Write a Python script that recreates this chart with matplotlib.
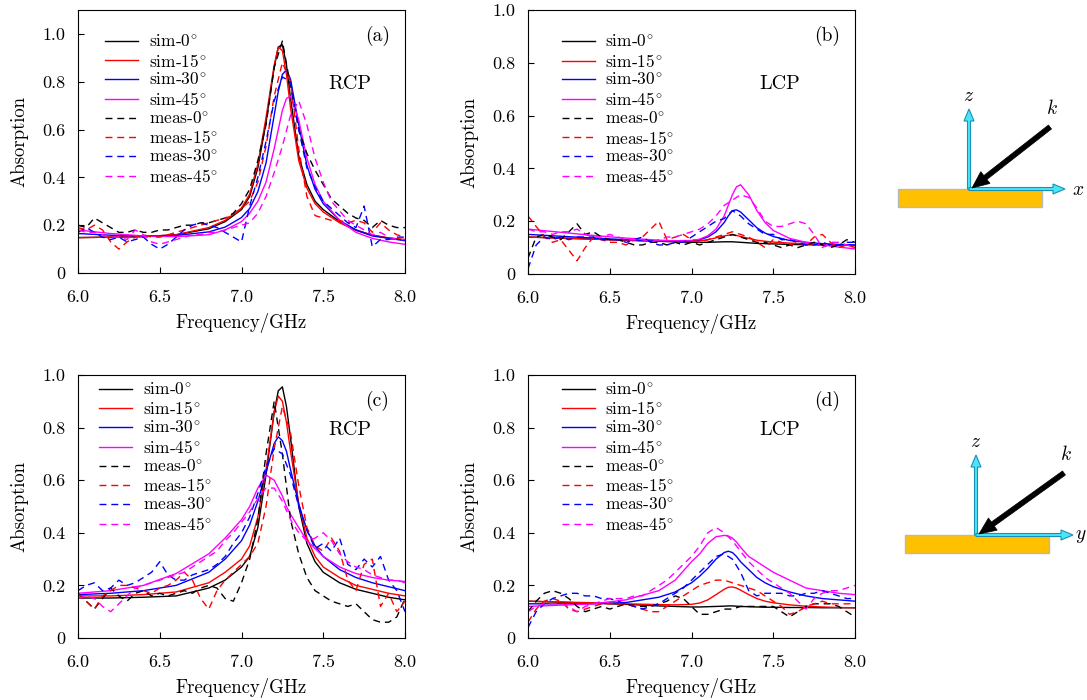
import numpy as np
import matplotlib
matplotlib.use('Agg')
import matplotlib.pyplot as plt
from matplotlib.patches import Rectangle, FancyArrow

plt.rcParams['font.family'] = 'serif'
plt.rcParams['font.serif'] = ['cmr10', 'DejaVu Serif']
plt.rcParams['mathtext.fontset'] = 'cm'
plt.rcParams['axes.formatter.use_mathtext'] = True

# frequency grids (GHz)
freq_sim = [6.0, 6.2, 6.4, 6.6, 6.8, 6.9, 7.0, 7.05, 7.1, 7.15, 7.2, 7.225,
            7.25, 7.275, 7.3, 7.35, 7.4, 7.45, 7.5, 7.6, 7.7, 7.8, 7.9, 8.0]
freq_meas = [6.00, 6.05, 6.10, 6.15, 6.20, 6.25, 6.30, 6.35, 6.40, 6.45,
             6.50, 6.55, 6.60, 6.65, 6.70, 6.75, 6.80, 6.85, 6.90, 6.95,
             7.00, 7.05, 7.10, 7.15, 7.20, 7.25, 7.30, 7.35, 7.40, 7.45,
             7.50, 7.55, 7.60, 7.65, 7.70, 7.75, 7.80, 7.85, 7.90, 7.95,
             8.00]

# (a) RCP, x-z plane
a_sim0 = [0.148, 0.150, 0.152, 0.160, 0.185, 0.215, 0.265, 0.320, 0.440, 0.630, 0.860, 0.945,
          0.955, 0.870, 0.730, 0.490, 0.370, 0.300, 0.265, 0.215, 0.180, 0.158, 0.146, 0.138]
a_sim15 = [0.148, 0.150, 0.152, 0.160, 0.190, 0.220, 0.272, 0.330, 0.455, 0.650, 0.870, 0.945,
           0.930, 0.830, 0.690, 0.470, 0.355, 0.290, 0.255, 0.210, 0.178, 0.158, 0.147, 0.140]
a_sim30 = [0.165, 0.158, 0.155, 0.157, 0.172, 0.192, 0.232, 0.270, 0.340, 0.460, 0.660, 0.760,
           0.830, 0.850, 0.810, 0.620, 0.450, 0.350, 0.290, 0.220, 0.180, 0.155, 0.145, 0.135]
a_sim45 = [0.180, 0.165, 0.155, 0.152, 0.160, 0.180, 0.215, 0.250, 0.300, 0.380, 0.520, 0.600,
           0.680, 0.730, 0.740, 0.640, 0.480, 0.370, 0.300, 0.220, 0.170, 0.145, 0.130, 0.120]
a_meas0 = [0.20, 0.19, 0.23, 0.21, 0.19, 0.17, 0.17, 0.18, 0.17, 0.17,
           0.18, 0.18, 0.19, 0.20, 0.20, 0.21, 0.21, 0.22, 0.23, 0.25,
           0.29, 0.35, 0.47, 0.62, 0.86, 0.97, 0.78, 0.60, 0.50, 0.43,
           0.37, 0.31, 0.28, 0.25, 0.23, 0.22, 0.19, 0.22, 0.20, 0.19,
           0.19]
a_meas15 = [0.19, 0.18, 0.20, 0.18, 0.13, 0.10, 0.13, 0.15, 0.16, 0.15,
            0.15, 0.16, 0.17, 0.18, 0.19, 0.20, 0.21, 0.22, 0.23, 0.24,
            0.27, 0.30, 0.38, 0.53, 0.74, 0.88, 0.80, 0.52, 0.32, 0.24,
            0.23, 0.22, 0.22, 0.21, 0.22, 0.21, 0.17, 0.21, 0.18, 0.16,
            0.15]
a_meas30 = [0.17, 0.19, 0.17, 0.15, 0.14, 0.15, 0.13, 0.14, 0.15, 0.12,
            0.10, 0.12, 0.15, 0.18, 0.20, 0.21, 0.20, 0.19, 0.17, 0.15,
            0.13, 0.28, 0.40, 0.55, 0.72, 0.82, 0.80, 0.60, 0.44, 0.36,
            0.30, 0.27, 0.24, 0.21, 0.19, 0.28, 0.11, 0.14, 0.14, 0.15,
            0.15]
a_meas45 = [0.18, 0.17, 0.17, 0.16, 0.15, 0.15, 0.14, 0.18, 0.16, 0.13,
            0.12, 0.13, 0.14, 0.15, 0.16, 0.16, 0.17, 0.17, 0.18, 0.19,
            0.20, 0.21, 0.25, 0.32, 0.42, 0.53, 0.66, 0.72, 0.62, 0.48,
            0.38, 0.30, 0.26, 0.22, 0.20, 0.18, 0.16, 0.17, 0.15, 0.14,
            0.14]

# (b) LCP, x-z plane
b_sim0 = [0.140, 0.136, 0.132, 0.128, 0.124, 0.122, 0.120, 0.120, 0.120, 0.121, 0.122, 0.122,
          0.122, 0.121, 0.120, 0.118, 0.116, 0.115, 0.114, 0.112, 0.111, 0.110, 0.109, 0.108]
b_sim15 = [0.140, 0.136, 0.132, 0.128, 0.124, 0.123, 0.124, 0.126, 0.130, 0.137, 0.144, 0.147,
           0.148, 0.146, 0.142, 0.135, 0.128, 0.124, 0.121, 0.117, 0.114, 0.112, 0.110, 0.108]
b_sim30 = [0.150, 0.143, 0.136, 0.130, 0.125, 0.124, 0.126, 0.130, 0.140, 0.160, 0.195, 0.220,
           0.240, 0.243, 0.235, 0.205, 0.175, 0.155, 0.142, 0.127, 0.120, 0.115, 0.112, 0.110]
b_sim45 = [0.170, 0.158, 0.146, 0.136, 0.128, 0.126, 0.127, 0.132, 0.145, 0.170, 0.220, 0.260,
           0.300, 0.330, 0.338, 0.300, 0.240, 0.195, 0.165, 0.135, 0.120, 0.110, 0.102, 0.095]
b_meas0 = [0.06, 0.14, 0.15, 0.14, 0.13, 0.16, 0.19, 0.15, 0.16, 0.14,
           0.13, 0.13, 0.12, 0.11, 0.11, 0.12, 0.12, 0.11, 0.12, 0.11,
           0.12, 0.11, 0.12, 0.13, 0.14, 0.15, 0.14, 0.13, 0.12, 0.12,
           0.11, 0.10, 0.11, 0.10, 0.11, 0.12, 0.11, 0.10, 0.11, 0.13,
           0.12]
b_meas15 = [0.22, 0.18, 0.14, 0.12, 0.13, 0.09, 0.05, 0.10, 0.14, 0.13,
            0.12, 0.12, 0.11, 0.13, 0.14, 0.17, 0.20, 0.13, 0.14, 0.15,
            0.13, 0.12, 0.13, 0.14, 0.15, 0.16, 0.15, 0.14, 0.12, 0.10,
            0.13, 0.12, 0.11, 0.12, 0.11, 0.14, 0.15, 0.12, 0.10, 0.11,
            0.10]
b_meas30 = [0.02, 0.11, 0.14, 0.13, 0.14, 0.13, 0.14, 0.14, 0.14, 0.13,
            0.13, 0.13, 0.12, 0.13, 0.14, 0.12, 0.11, 0.11, 0.12, 0.12,
            0.14, 0.16, 0.18, 0.20, 0.21, 0.24, 0.22, 0.19, 0.17, 0.15,
            0.15, 0.13, 0.13, 0.12, 0.11, 0.11, 0.12, 0.11, 0.11, 0.12,
            0.12]
b_meas45 = [0.17, 0.16, 0.16, 0.15, 0.16, 0.16, 0.17, 0.15, 0.14, 0.14,
            0.15, 0.14, 0.13, 0.13, 0.13, 0.12, 0.13, 0.14, 0.14, 0.15,
            0.16, 0.17, 0.19, 0.22, 0.26, 0.28, 0.30, 0.29, 0.25, 0.20,
            0.18, 0.18, 0.19, 0.20, 0.19, 0.15, 0.10, 0.12, 0.12, 0.11,
            0.10]

# (c) RCP, y-z plane
c_sim0 = [0.152, 0.152, 0.155, 0.160, 0.190, 0.220, 0.270, 0.310, 0.420, 0.620, 0.860, 0.940,
          0.955, 0.880, 0.760, 0.500, 0.360, 0.290, 0.250, 0.210, 0.185, 0.170, 0.155, 0.145]
c_sim15 = [0.160, 0.160, 0.165, 0.175, 0.210, 0.250, 0.300, 0.350, 0.460, 0.640, 0.860, 0.920,
           0.900, 0.820, 0.710, 0.510, 0.380, 0.310, 0.270, 0.230, 0.200, 0.185, 0.170, 0.160]
c_sim30 = [0.165, 0.170, 0.180, 0.200, 0.250, 0.300, 0.370, 0.430, 0.520, 0.630, 0.740, 0.765,
           0.750, 0.710, 0.640, 0.510, 0.410, 0.350, 0.310, 0.260, 0.230, 0.210, 0.195, 0.180]
c_sim45 = [0.170, 0.180, 0.200, 0.245, 0.320, 0.380, 0.450, 0.500, 0.570, 0.620, 0.600, 0.570,
           0.540, 0.500, 0.470, 0.420, 0.370, 0.340, 0.310, 0.270, 0.245, 0.230, 0.220, 0.215]
c_meas0 = [0.17, 0.14, 0.11, 0.15, 0.19, 0.16, 0.14, 0.17, 0.18, 0.16,
           0.17, 0.16, 0.17, 0.18, 0.17, 0.19, 0.20, 0.19, 0.15, 0.14,
           0.21, 0.30, 0.45, 0.70, 0.90, 0.70, 0.45, 0.32, 0.23, 0.18,
           0.16, 0.14, 0.13, 0.12, 0.13, 0.10, 0.07, 0.06, 0.06, 0.08,
           0.15]
c_meas15 = [0.17, 0.14, 0.11, 0.16, 0.18, 0.20, 0.20, 0.19, 0.18, 0.17,
            0.19, 0.20, 0.22, 0.25, 0.22, 0.15, 0.11, 0.18, 0.22, 0.25,
            0.28, 0.31, 0.36, 0.50, 0.72, 0.88, 0.78, 0.58, 0.42, 0.35,
            0.33, 0.38, 0.33, 0.22, 0.18, 0.28, 0.30, 0.12, 0.17, 0.10,
            0.14]
c_meas30 = [0.18, 0.20, 0.21, 0.18, 0.19, 0.22, 0.20, 0.21, 0.23, 0.25,
            0.29, 0.24, 0.22, 0.22, 0.24, 0.25, 0.26, 0.28, 0.31, 0.36,
            0.40, 0.46, 0.55, 0.65, 0.72, 0.70, 0.62, 0.50, 0.41, 0.34,
            0.36, 0.33, 0.38, 0.28, 0.26, 0.30, 0.27, 0.31, 0.22, 0.18,
            0.10]
c_meas45 = [0.15, 0.16, 0.15, 0.12, 0.10, 0.13, 0.16, 0.19, 0.20, 0.21,
            0.22, 0.23, 0.24, 0.25, 0.27, 0.29, 0.31, 0.33, 0.37, 0.40,
            0.44, 0.48, 0.53, 0.57, 0.57, 0.52, 0.45, 0.40, 0.37, 0.38,
            0.40, 0.37, 0.32, 0.29, 0.27, 0.26, 0.24, 0.23, 0.22, 0.22,
            0.21]

# (d) LCP, y-z plane
d_sim0 = [0.140, 0.136, 0.132, 0.128, 0.122, 0.120, 0.118, 0.118, 0.119, 0.120, 0.121, 0.122,
          0.122, 0.121, 0.120, 0.119, 0.118, 0.117, 0.117, 0.116, 0.116, 0.115, 0.115, 0.115]
d_sim15 = [0.140, 0.137, 0.134, 0.130, 0.127, 0.126, 0.128, 0.133, 0.145, 0.165, 0.185, 0.193,
           0.194, 0.190, 0.182, 0.165, 0.150, 0.140, 0.134, 0.126, 0.121, 0.118, 0.116, 0.115]
d_sim30 = [0.130, 0.130, 0.130, 0.135, 0.155, 0.175, 0.210, 0.235, 0.265, 0.300, 0.325, 0.330,
           0.325, 0.310, 0.290, 0.260, 0.230, 0.210, 0.195, 0.175, 0.160, 0.150, 0.145, 0.140]
d_sim45 = [0.120, 0.125, 0.130, 0.145, 0.180, 0.220, 0.290, 0.320, 0.360, 0.385, 0.390, 0.388,
           0.380, 0.365, 0.345, 0.310, 0.290, 0.270, 0.250, 0.220, 0.190, 0.180, 0.170, 0.165]
d_meas0 = [0.10, 0.14, 0.17, 0.18, 0.17, 0.15, 0.12, 0.10, 0.11, 0.12,
           0.11, 0.12, 0.13, 0.12, 0.12, 0.12, 0.13, 0.14, 0.16, 0.15,
           0.12, 0.09, 0.09, 0.10, 0.11, 0.11, 0.12, 0.12, 0.12, 0.12,
           0.12, 0.10, 0.08, 0.10, 0.12, 0.13, 0.13, 0.13, 0.12, 0.10,
           0.08]
d_meas15 = [0.06, 0.11, 0.14, 0.15, 0.14, 0.11, 0.10, 0.11, 0.12, 0.13,
            0.13, 0.13, 0.13, 0.12, 0.11, 0.10, 0.10, 0.12, 0.14, 0.16,
            0.18, 0.20, 0.21, 0.22, 0.22, 0.21, 0.20, 0.19, 0.18, 0.16,
            0.14, 0.12, 0.09, 0.10, 0.12, 0.13, 0.14, 0.13, 0.13, 0.13,
            0.13]
d_meas30 = [0.04, 0.10, 0.13, 0.15, 0.16, 0.17, 0.17, 0.16, 0.16, 0.15,
            0.15, 0.14, 0.13, 0.12, 0.11, 0.12, 0.13, 0.15, 0.17, 0.19,
            0.22, 0.25, 0.28, 0.31, 0.32, 0.30, 0.25, 0.18, 0.16, 0.17,
            0.17, 0.17, 0.16, 0.16, 0.17, 0.17, 0.18, 0.17, 0.16, 0.15,
            0.15]
d_meas45 = [0.10, 0.12, 0.13, 0.13, 0.13, 0.12, 0.10, 0.12, 0.13, 0.14,
            0.15, 0.15, 0.15, 0.16, 0.16, 0.18, 0.20, 0.22, 0.25, 0.28,
            0.31, 0.35, 0.40, 0.42, 0.40, 0.37, 0.33, 0.29, 0.26, 0.23,
            0.21, 0.19, 0.17, 0.14, 0.11, 0.15, 0.17, 0.18, 0.18, 0.19,
            0.20]

angles = [0, 15, 30, 45]
colors = ['black', 'red', 'blue', 'magenta']
xticks = [6.0, 6.5, 7.0, 7.5, 8.0]
yticks = [0, 0.2, 0.4, 0.6, 0.8, 1.0]
ytick_labels = ['0', '0.2', '0.4', '0.6', '0.8', '1.0']

W, H = 1087, 700
fig = plt.figure(figsize=(W / 100, H / 100), dpi=100)


def panel(rect_px, sims, meass, ytop, tag, pol, pol_xy, leg_xy):
    l, t, r, b = rect_px
    ax = fig.add_axes([l / W, 1 - b / H, (r - l) / W, (b - t) / H])
    for s, c, a in zip(sims, colors, angles):
        ax.plot(freq_sim, s, color=c, lw=1.0, label=r'sim-%d$^{\circ}$' % a)
    for m, c, a in zip(meass, colors, angles):
        ax.plot(freq_meas, m, color=c, lw=1.0, ls=(0, (5, 3.5)), label=r'meas-%d$^{\circ}$' % a)
    ax.set_xlim(6.0, 8.0)
    ax.set_ylim(0, ytop)
    ax.set_xticks(xticks)
    ax.set_xticklabels(['%.1f' % v for v in xticks])
    ax.set_yticks(yticks)
    ax.set_yticklabels(ytick_labels)
    ax.tick_params(direction='in', length=4, labelsize=13, top=False, right=False)
    ax.tick_params(axis='x', pad=12)
    ax.tick_params(axis='y', pad=9)
    ax.set_xlabel('Frequency/GHz', fontsize=13.5, labelpad=5.5)
    ax.set_ylabel('Absorption', fontsize=13.5, labelpad=10)
    ax.text(0.915, 0.90, tag, transform=ax.transAxes, fontsize=14, ha='center', va='center')
    ax.text(pol_xy[0], pol_xy[1], pol, transform=ax.transAxes, fontsize=14.5, ha='center', va='center')
    ax.legend(loc='upper left', bbox_to_anchor=leg_xy, frameon=False, fontsize=12.5,
              borderpad=0, borderaxespad=0, labelspacing=0.15, handlelength=1.9,
              handletextpad=0.6)
    return ax


panel((78, 10, 405, 273), [a_sim0, a_sim15, a_sim30, a_sim45],
      [a_meas0, a_meas15, a_meas30, a_meas45], 1.1, '(a)', 'RCP', (0.83, 0.72), (0.083, 0.91))
panel((528, 10, 855, 274), [b_sim0, b_sim15, b_sim30, b_sim45],
      [b_meas0, b_meas15, b_meas30, b_meas45], 1.0, '(b)', 'LCP', (0.77, 0.72), (0.103, 0.91))
panel((78, 375, 405, 638), [c_sim0, c_sim15, c_sim30, c_sim45],
      [c_meas0, c_meas15, c_meas30, c_meas45], 1.0, '(c)', 'RCP', (0.83, 0.79), (0.065, 0.975))
panel((528, 375, 855, 638), [d_sim0, d_sim15, d_sim30, d_sim45],
      [d_meas0, d_meas15, d_meas30, d_meas45], 1.0, '(d)', 'LCP', (0.77, 0.79), (0.103, 0.975))

# incidence schematics on the right
sk = fig.add_axes([0, 0, 1, 1])
sk.set_xlim(0, W)
sk.set_ylim(H, 0)
sk.axis('off')
sk.patch.set_alpha(0)


def schematic(ox, oy, hname, hlen, kdx, hl_dx):
    sk.add_patch(Rectangle((ox - 71, oy), 144, 18, fc='#FFC000', ec='#b8b8b8', lw=1))
    sk.add_patch(FancyArrow(ox, oy, 0, -80, width=3, head_width=10, head_length=12,
                            length_includes_head=True, fc='#48E6F8', ec='#1C8FB5', lw=0.8))
    sk.add_patch(FancyArrow(ox, oy, hlen, 0, width=3, head_width=10, head_length=12,
                            length_includes_head=True, fc='#48E6F8', ec='#1C8FB5', lw=0.8))
    sk.add_patch(FancyArrow(ox + kdx, oy - 62, -kdx + 3, 61, width=5, head_width=15, head_length=17,
                            length_includes_head=True, fc='black', ec='black', lw=0.5))
    sk.text(ox, oy - 93, '$z$', fontsize=14, ha='center', va='center')
    sk.text(ox + hlen + hl_dx, oy + 1, hname, fontsize=14, ha='center', va='center')
    sk.text(ox + kdx + 2, oy - 80, '$k$', fontsize=14, ha='center', va='center')


schematic(969, 189, '$x$', 96, 81, 13)
schematic(976, 535, '$y$', 97, 88, 8)

fig.savefig('out.png', dpi=100)
